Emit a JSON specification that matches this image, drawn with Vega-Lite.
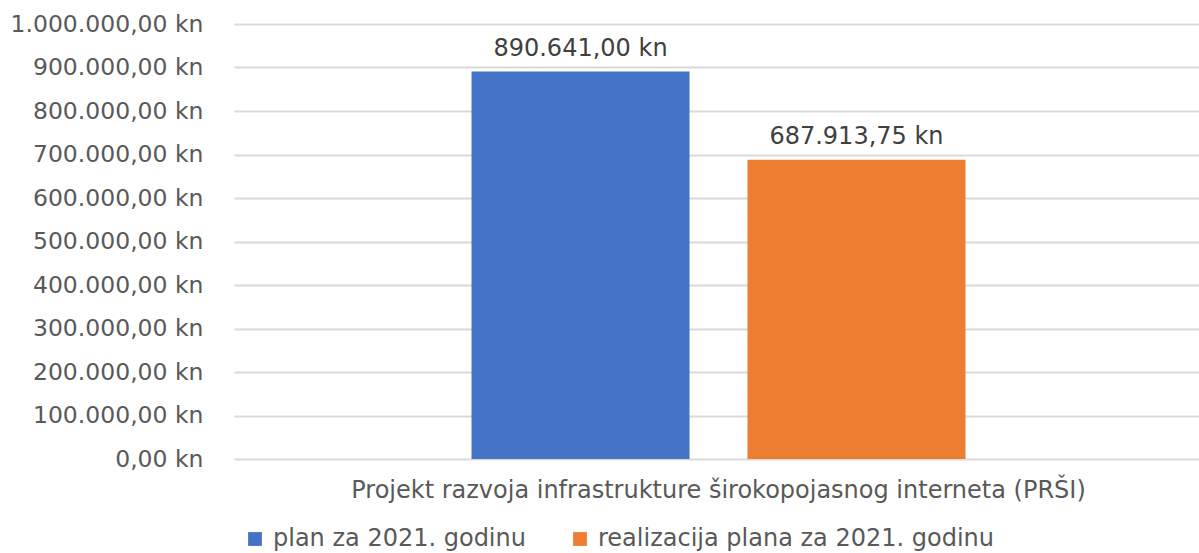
{
  "$schema": "https://vega.github.io/schema/vega-lite/v6.json",
  "autosize": {"type": "none"},
  "padding": {"left": 234, "top": 24, "right": 0, "bottom": 94},
  "width": 969,
  "height": 435,
  "background": "white",
  "config": {
    "view": {"stroke": null},
    "locale": {
      "number": {"decimal": ",", "thousands": ".", "grouping": [3], "currency": ["", " kn"]}
    }
  },
  "data": {
    "values": [
      {"projekt": "Projekt razvoja infrastrukture širokopojasnog interneta (PRŠI)", "serija": "plan za 2021. godinu", "iznos": 890641.00},
      {"projekt": "Projekt razvoja infrastrukture širokopojasnog interneta (PRŠI)", "serija": "realizacija plana za 2021. godinu", "iznos": 687913.75}
    ]
  },
  "encoding": {
    "x": {
      "field": "projekt", "type": "nominal", "title": null,
      "scale": {"paddingInner": 0, "paddingOuter": 0.4808},
      "axis": {"domain": false, "ticks": false, "grid": false, "labelAngle": 0, "labelFont": "DejaVu Sans", "labelFontSize": 24, "labelColor": "#595959", "labelPadding": 19, "labelLimit": 1000}
    },
    "xOffset": {"field": "serija", "type": "nominal", "scale": {"paddingInner": 0.21, "paddingOuter": 0}},
    "y": {
      "field": "iznos", "type": "quantitative", "title": null,
      "scale": {"domain": [0, 1000000], "nice": false},
      "axis": {"values": [0, 100000, 200000, 300000, 400000, 500000, 600000, 700000, 800000, 900000, 1000000], "format": "$,.2f", "domain": false, "ticks": false, "gridColor": "#d9d9d9", "gridWidth": 2, "labelFont": "DejaVu Sans", "labelFontSize": 23.5, "labelColor": "#595959", "labelPadding": 31, "labelLimit": 400}
    }
  },
  "layer": [
    {
      "mark": {"type": "bar"},
      "encoding": {
        "color": {
          "field": "serija", "type": "nominal",
          "scale": {"domain": ["plan za 2021. godinu", "realizacija plana za 2021. godinu"], "range": ["#4472C4", "#ED7D31"]},
          "legend": {"orient": "none", "direction": "horizontal", "legendX": 9, "legendY": 503, "title": null, "symbolType": "square", "symbolSize": 190, "symbolStrokeWidth": 0, "labelFont": "DejaVu Sans", "labelFontSize": 24, "labelColor": "#595959", "labelOffset": 6, "columnPadding": 42, "labelLimit": 600}
        }
      }
    },
    {
      "mark": {"type": "text", "baseline": "alphabetic", "dy": -16, "font": "DejaVu Sans", "fontSize": 24, "color": "#404040"},
      "encoding": {
        "text": {"field": "iznos", "type": "quantitative", "format": "$,.2f"}
      }
    }
  ]
}
